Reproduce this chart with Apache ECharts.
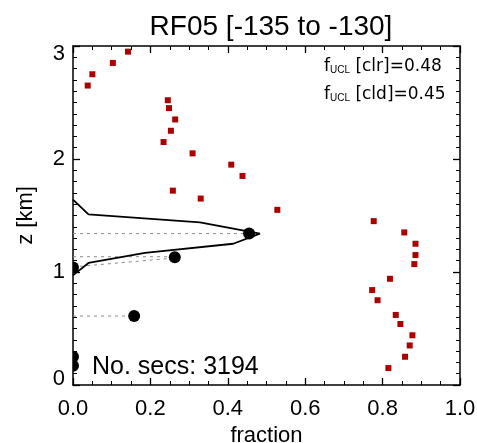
<!DOCTYPE html>
<html>
<head>
<meta charset="utf-8">
<script src="https://cdn.jsdelivr.net/npm/echarts@6/dist/echarts.min.js"></script>
<style>html,body{margin:0;padding:0;background:#fff}#c{width:477px;height:443px}</style>
</head>
<body>
<div id="c"></div>
<script>
// ---- data ----
var titleText = 'RF05 [-135 to -130]';
var xTicks = [0.0, 0.2, 0.4, 0.6, 0.8, 1.0];
var yTicks = [0, 1, 2, 3];
// red squares: fraction, height (km)
var redFrac = [0.038, 0.050, 0.103, 0.142, 0.245, 0.248, 0.264, 0.253, 0.234, 0.309, 0.409, 0.438, 0.258, 0.330, 0.528,
               0.777, 0.856, 0.885, 0.885, 0.882, 0.819, 0.773, 0.787, 0.834, 0.846, 0.877, 0.870, 0.858, 0.815];
var redZ    = [2.65, 2.75, 2.85, 2.95, 2.52, 2.45, 2.35, 2.25, 2.15, 2.05, 1.95, 1.85, 1.72, 1.65, 1.55,
               1.45, 1.35, 1.25, 1.15, 1.07, 0.94, 0.84, 0.75, 0.62, 0.54, 0.44, 0.35, 0.25, 0.15];
// black circles
var dotFrac = [0.455, 0.263, 0.0, 0.158, 0.0, 0.0];
var dotZ    = [1.34, 1.13, 1.04, 0.61, 0.25, 0.17];
// profile line
var profFrac = [0.0, 0.040, 0.328, 0.483, 0.414, 0.186, 0.040, 0.0];
var profZ    = [1.64, 1.51, 1.44, 1.34, 1.25, 1.17, 1.08, 0.97];
// dashed guide lines [x0, z0, x1, z1]
var guides = [[0, 1.34, 0.455, 1.34], [0, 1.135, 0.263, 1.135], [0, 0.61, 0.158, 0.61], [0, 1.045, 0.25, 1.12]];
var nSecs = 3194;
var fClr = 0.48, fCld = 0.45;

// ---- chart ----
var FONT = 'Liberation Sans, Arial, sans-serif';
var FONT2 = 'DejaVu Sans, sans-serif';
function zip(a, b) { return a.map(function (v, i) { return [v, b[i]]; }); }

var chart = echarts.init(document.getElementById('c'), null, {renderer: 'canvas'});
var axisCommon = {
  type: 'value',
  axisLine: {show: true, onZero: false, lineStyle: {color: '#000', width: 1.5}},
  axisTick: {show: true, inside: true, length: 7, lineStyle: {color: '#000', width: 1.3}},
  splitLine: {show: false}
};
function ax(extra) { return Object.assign({}, JSON.parse(JSON.stringify(axisCommon)), extra); }

var series = [];
guides.forEach(function (g) {
  series.push({
    type: 'line', data: [[g[0], g[1]], [g[2], g[3]]], symbol: 'none', silent: true,
    lineStyle: {color: '#8a8a8a', width: 1, type: [3, 4]}, z: 1, animation: false
  });
});
series.push({
  type: 'line', data: zip(profFrac, profZ), symbol: 'none',
  lineStyle: {color: '#000', width: 1.8}, z: 2, animation: false
});
series.push({
  type: 'scatter', data: zip(redFrac, redZ), symbol: 'rect', symbolSize: 6,
  itemStyle: {color: '#aa0000', opacity: 1}, z: 3, animation: false
});
series.push({
  type: 'custom', data: zip(dotFrac, dotZ), clip: true, z: 4, animation: false,
  renderItem: function (params, api) {
    var p = api.coord([api.value(0), api.value(1)]);
    var cs = params.coordSys;
    return {
      type: 'circle', shape: {cx: p[0], cy: p[1], r: 6}, style: {fill: '#000'},
      clipPath: {type: 'rect', shape: {x: cs.x, y: cs.y, width: cs.width, height: cs.height}}
    };
  }
});

chart.setOption({
  backgroundColor: '#fff',
  animation: false,
  title: {
    text: titleText, left: 266, top: 8, textAlign: 'center',
    textStyle: {fontFamily: FONT, fontSize: 28, fontWeight: 'normal', color: '#000'}
  },
  grid: {left: 73, right: 17, top: 46, bottom: 58, containLabel: false, outerBoundsMode: 'none'},
  xAxis: [
    ax({min: xTicks[0], max: xTicks[xTicks.length - 1], interval: 0.2, position: 'bottom',
        minorTick: {show: true, splitNumber: 4, length: 4, lineStyle: {color: '#000', width: 1}},
        axisLabel: {show: true, margin: 13, fontFamily: FONT, fontSize: 22, color: '#000',
                    formatter: function (v) { return v.toFixed(1); }},
        name: 'fraction', nameLocation: 'middle', nameGap: 35,
        nameTextStyle: {fontFamily: FONT, fontSize: 22, color: '#000'}}),
    ax({min: xTicks[0], max: xTicks[xTicks.length - 1], interval: 0.2, position: 'top',
        minorTick: {show: true, splitNumber: 4, length: 4, lineStyle: {color: '#000', width: 1}},
        axisLabel: {show: false}})
  ],
  yAxis: [
    ax({min: yTicks[0], max: yTicks[yTicks.length - 1], interval: 1, position: 'left',
        minorTick: {show: true, splitNumber: 10, length: 4, lineStyle: {color: '#000', width: 1}},
        axisLabel: {show: true, margin: 8, fontFamily: FONT, fontSize: 22, color: '#000',
                    formatter: function (v) {
                      if (v === yTicks[yTicks.length - 1]) return '{t|' + v + '}';
                      if (v === yTicks[0]) return '{b|' + v + '}';
                      return String(v);
                    },
                    rich: {t: {fontFamily: FONT, fontSize: 22, color: '#000', padding: [16, 0, 0, 0]},
                           b: {fontFamily: FONT, fontSize: 22, color: '#000', padding: [0, 0, 12, 0]}}},
        name: 'z [km]', nameLocation: 'middle', nameGap: 36, nameRotate: 90,
        nameTextStyle: {fontFamily: FONT, fontSize: 22, color: '#000'}}),
    ax({min: yTicks[0], max: yTicks[yTicks.length - 1], interval: 1, position: 'right',
        minorTick: {show: true, splitNumber: 10, length: 4, lineStyle: {color: '#000', width: 1}},
        axisLabel: {show: false}})
  ],
  series: series,
  graphic: [
    {type: 'text', left: 92, top: 355, silent: true,
     style: {text: 'No. secs: ' + nSecs, fontFamily: FONT, fontSize: 25, fill: '#000'}},
    {type: 'text', left: 324, top: 58, silent: true,
     style: {text: '{f|f}{s|UCL}{m| [clr]=' + fClr.toFixed(2) + '}', fontFamily: FONT2,
             rich: {f: {fontFamily: FONT2, fontSize: 17, fill: '#000', verticalAlign: 'bottom', lineHeight: 20},
                    s: {fontFamily: FONT, fontSize: 10, fill: '#000', verticalAlign: 'bottom', lineHeight: 14},
                    m: {fontFamily: FONT2, fontSize: 17, fill: '#000', verticalAlign: 'bottom', lineHeight: 20}}}},
    {type: 'text', left: 324, top: 86, silent: true,
     style: {text: '{f|f}{s|UCL}{m| [cld]=' + fCld.toFixed(2) + '}', fontFamily: FONT2,
             rich: {f: {fontFamily: FONT2, fontSize: 17, fill: '#000', verticalAlign: 'bottom', lineHeight: 20},
                    s: {fontFamily: FONT, fontSize: 10, fill: '#000', verticalAlign: 'bottom', lineHeight: 14},
                    m: {fontFamily: FONT2, fontSize: 17, fill: '#000', verticalAlign: 'bottom', lineHeight: 20}}}}
  ]
});
</script>
</body>
</html>
